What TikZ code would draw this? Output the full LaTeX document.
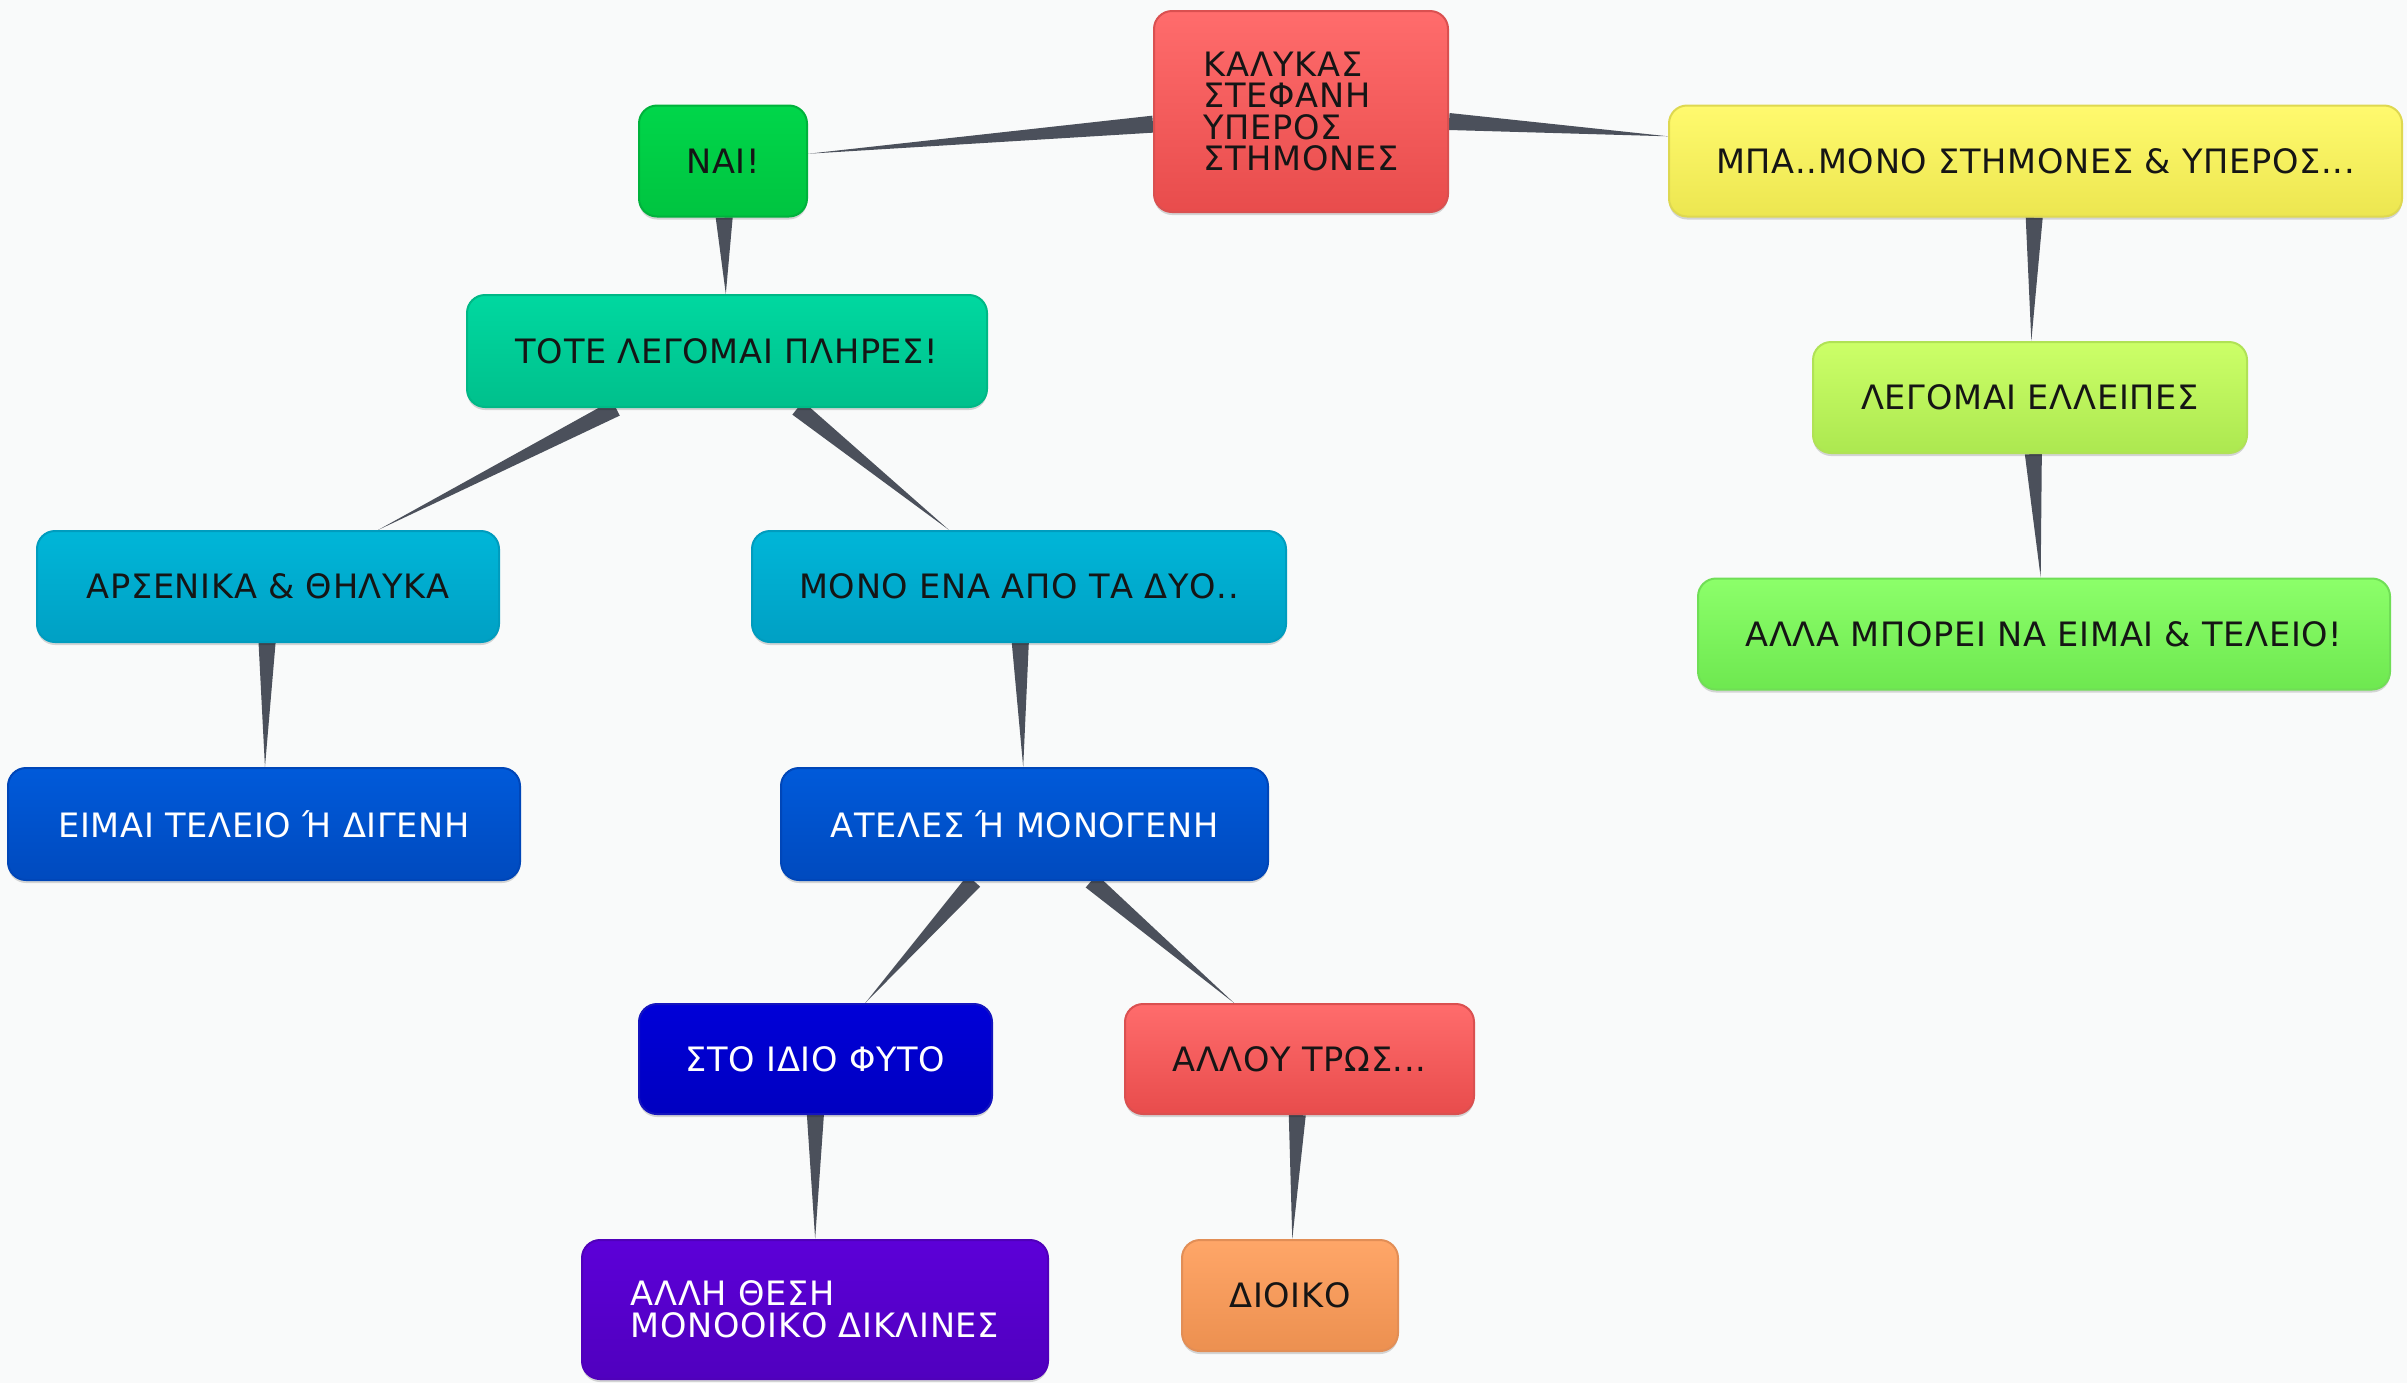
\documentclass[tikz,border=0pt]{standalone}
\usepackage{fontspec}
\setmainfont[LetterSpace=2]{DejaVu Sans}
\usetikzlibrary{calc,shadows}
\pgfdeclarelayer{bg}
\pgfdeclarelayer{conn}
\pgfsetlayers{bg,conn,main}
\definecolor{bgc}{HTML}{F9FAFA}
\definecolor{wedgec}{HTML}{4B505B}
\definecolor{txt}{HTML}{151515}
\definecolor{redT}{HTML}{FF6C6C}\definecolor{redB}{HTML}{E84C4C}\definecolor{redD}{HTML}{DA5050}
\definecolor{grnT}{HTML}{00D64A}\definecolor{grnB}{HTML}{00C440}\definecolor{grnD}{HTML}{00B23C}
\definecolor{yelT}{HTML}{FFFA6E}\definecolor{yelB}{HTML}{ECE650}\definecolor{yelD}{HTML}{DED850}
\definecolor{tealT}{HTML}{00D8A0}\definecolor{tealB}{HTML}{00C08C}\definecolor{tealD}{HTML}{00B886}
\definecolor{limT}{HTML}{CCFF68}\definecolor{limB}{HTML}{ACE850}\definecolor{limD}{HTML}{B0E256}
\definecolor{cyT}{HTML}{00B6D8}\definecolor{cyB}{HTML}{00A0C4}\definecolor{cyD}{HTML}{009CBE}
\definecolor{lgT}{HTML}{8CFF6A}\definecolor{lgB}{HTML}{6EE850}\definecolor{lgD}{HTML}{70DE56}
\definecolor{blT}{HTML}{005ADA}\definecolor{blB}{HTML}{004ABE}\definecolor{blD}{HTML}{0046B8}
\definecolor{dbT}{HTML}{0000D8}\definecolor{dbB}{HTML}{0000C0}\definecolor{dbD}{HTML}{1414BE}
\definecolor{vT}{HTML}{5C00D8}\definecolor{vB}{HTML}{5000BE}\definecolor{vD}{HTML}{5000BA}
\definecolor{orT}{HTML}{FFA668}\definecolor{orB}{HTML}{EC9050}\definecolor{orD}{HTML}{E28E56}
\newcommand\wedgeconn[2]{%
  \path (#1) -- (#2) coordinate[pos=0] (ws) coordinate[pos=1] (we);
  \begin{pgfonlayer}{conn}
  \fill[wedgec] ($(ws)!4.25pt!90:(we)$) -- ($(ws)!4.25pt!-90:(we)$) -- (we) -- cycle;
  \end{pgfonlayer}}
\tikzset{
  box/.style={rectangle, rounded corners=9pt, line width=1pt, inner sep=0pt,
    minimum height=55.5pt, align=left, text=txt,
    font=\fontsize{16.8}{15.8}\selectfont,
    drop shadow={shadow xshift=0pt, shadow yshift=-1.5pt, opacity=0.15, fill=black}},
  colbox/.style={box, top color=#1T, bottom color=#1B, draw=#1D},
}
\begin{document}
\begin{tikzpicture}[x=0.5pt,y=-0.5pt]
\begin{pgfonlayer}{bg}
\fill[bgc] (0,0) rectangle (2407,1383);
\end{pgfonlayer}
\useasboundingbox (0,0) rectangle (2407,1383);

\node[colbox=red, minimum width=147pt, minimum height=100.5pt] (root) at (1301,111.5)
  {ΚΑΛΥΚΑΣ\\ΣΤΕΦΑΝΗ\\ΥΠΕΡΟΣ\\ΣΤΗΜΟΝΕΣ};
\node[colbox=grn, minimum width=84pt] (nai) at (723,161) {ΝΑΙ!};
\node[colbox=yel, minimum width=366.5pt] (mpa) at (2035.5,161) {ΜΠΑ..ΜΟΝΟ ΣΤΗΜΟΝΕΣ \& ΥΠΕΡΟΣ...};
\node[colbox=teal, minimum width=260pt, minimum height=56pt] (tote) at (727,351) {ΤΟΤΕ ΛΕΓΟΜΑΙ ΠΛΗΡΕΣ!};
\node[colbox=lim, minimum width=217pt] (elleipes) at (2030,397.5) {ΛΕΓΟΜΑΙ ΕΛΛΕΙΠΕΣ};
\node[colbox=cy, minimum width=231pt] (arsenika) at (268,586.5) {ΑΡΣΕΝΙΚΑ \& ΘΗΛΥΚΑ};
\node[colbox=cy, minimum width=267pt] (mono) at (1019,586.5) {ΜΟΝΟ ΕΝΑ ΑΠΟ ΤΑ ΔΥΟ..};
\node[colbox=lg, minimum width=346pt] (alla) at (2044,634) {ΑΛΛΑ ΜΠΟΡΕΙ ΝΑ ΕΙΜΑΙ \& ΤΕΛΕΙΟ!};
\node[colbox=bl, text=white, minimum width=256pt, minimum height=56pt] (eimai) at (264,824) {ΕΙΜΑΙ ΤΕΛΕΙΟ Ή ΔΙΓΕΝΗ};
\node[colbox=bl, text=white, minimum width=243.5pt, minimum height=56pt] (ateles) at (1024.5,824) {ΑΤΕΛΕΣ Ή ΜΟΝΟΓΕΝΗ};
\node[colbox=db, text=white, minimum width=176.5pt, minimum height=55pt] (idio) at (815.5,1059) {ΣΤΟ ΙΔΙΟ ΦΥΤΟ};
\node[colbox=red, minimum width=174.5pt, minimum height=55pt] (allou) at (1299.5,1059) {ΑΛΛΟΥ ΤΡΩΣ...};
\node[colbox=v, text=white, minimum width=233pt, minimum height=69.5pt] (thesi) at (815,1309.5) {ΑΛΛΗ ΘΕΣΗ\\ΜΟΝΟΟΙΚΟ ΔΙΚΛΙΝΕΣ};
\node[colbox=or, minimum width=108pt] (dioiko) at (1290,1295.5) {ΔΙΟΙΚΟ};

\wedgeconn{root}{nai}
\wedgeconn{root}{mpa}
\wedgeconn{nai}{tote}
\wedgeconn{mpa}{elleipes}
\wedgeconn{elleipes}{alla}
\wedgeconn{tote}{arsenika}
\wedgeconn{tote}{mono}
\wedgeconn{arsenika}{eimai}
\wedgeconn{mono}{ateles}
\wedgeconn{ateles}{idio}
\wedgeconn{ateles}{allou}
\wedgeconn{idio}{thesi}
\wedgeconn{allou}{dioiko}
\end{tikzpicture}
\end{document}
